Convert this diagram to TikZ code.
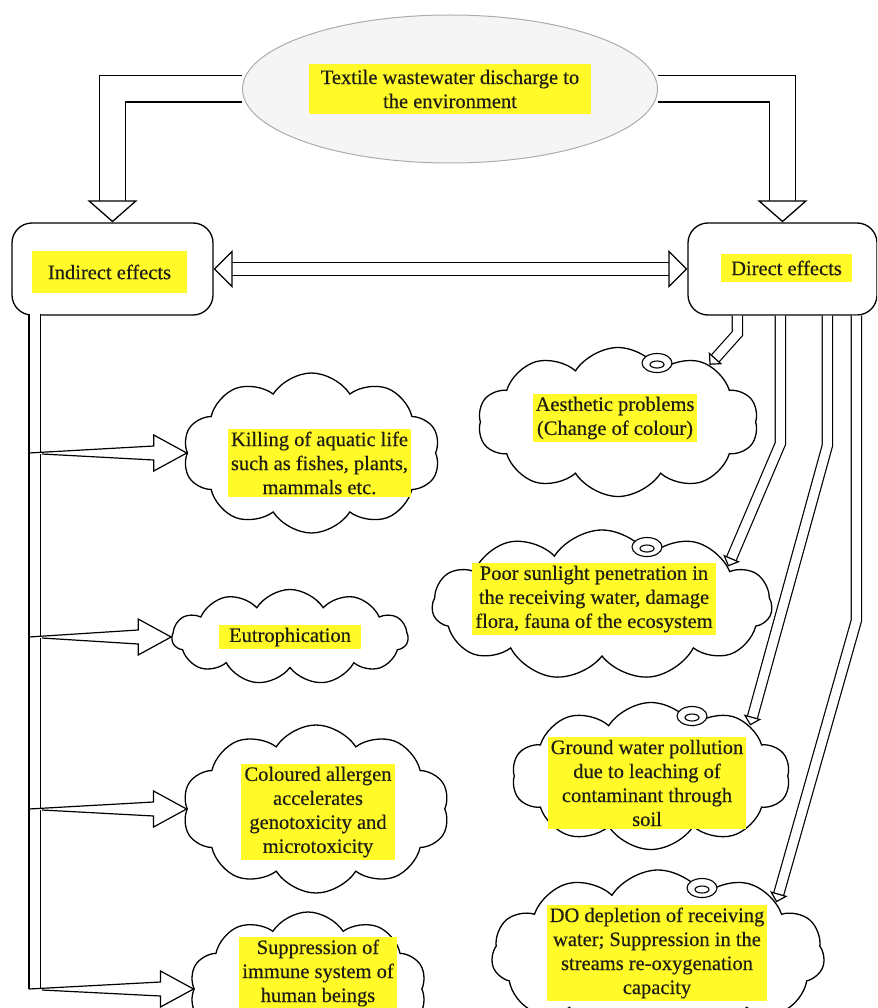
\documentclass[tikz,border=0pt]{standalone}
\usepackage{fontspec}
\setmainfont{Liberation Serif}[UprightFeatures={FakeBold=0.35}]
\usetikzlibrary{shapes.geometric,shapes.symbols,arrows.meta,calc,backgrounds}
\definecolor{hl}{RGB}{255,250,40}
\definecolor{ink}{RGB}{30,30,20}
\tikzstyle{every node}=[font=\fontsize{20.5}{24}\selectfont, text=ink]
\tikzstyle{box}=[draw, line width=1.3pt, rounded corners=20pt, minimum width=201pt, minimum height=92pt]
\tikzstyle{puff}=[cloud, draw, line width=1.3pt, fill=white, cloud puffs=10, cloud puff arc=115, cloud ignores aspect]
\tikzstyle{hilite}=[fill=hl, align=center, inner sep=3pt]
\tikzstyle{fat}=[double=white, double distance=25pt, line width=1.3pt, -{Triangle[length=22pt, width=50pt, fill=white, line width=1.3pt]}]
\tikzstyle{link}=[double=white, double distance=12pt, line width=1.3pt, {Triangle[length=19pt, width=38pt, fill=white, line width=1.3pt]}-{Triangle[length=19pt, width=38pt, fill=white, line width=1.3pt]}]
\tikzstyle{trunk}=[double=white, double distance=10.5pt, line width=1.2pt]
\tikzstyle{feed}=[double=white, double distance=9pt, line width=1.2pt, -{Triangle[length=9pt, width=18pt, fill=white, line width=1.2pt]}]
\tikzstyle{branch}=[line width=1.2pt, fill=white, line join=miter]

\begin{document}
\begin{tikzpicture}[x=1pt, y=-1pt]
\useasboundingbox (0,0) rectangle (877,1008);
\clip (0,0) rectangle (877,1008);

\node[ellipse, draw=gray!65, line width=1pt, fill=gray!8, minimum width=415pt, minimum height=148pt] (src) at (450,89) {};
\node[hilite, inner xsep=12pt, inner ysep=6pt] (srctxt) at (src.center) {Textile wastewater discharge to\\the environment};

\node[box] (ind) at (112.5,269) {};
\node[hilite, inner xsep=16pt, inner ysep=14pt] (indtxt) at ($(ind.center)+(-3,3)$) {Indirect effects};
\node[box, minimum width=189pt] (dir) at (782.5,269) {};
\node[hilite, inner xsep=10pt, inner ysep=7pt] (dirtxt) at ($(dir.center)+(4,-1)$) {Direct effects};

\begin{scope}[on background layer]
\draw[fat] (src.west) -| (ind.north);
\draw[fat] (src.east) -| (dir.north);
\end{scope}
\draw[link] (ind.east) -- (dir.west);

\node[puff, minimum width=257pt, minimum height=160pt] (kill) at (311.5,453) {};
\node[hilite] (killtxt) at ($(kill.center)+(8,10)$) {Killing of aquatic life\\such as fishes, plants,\\mammals etc.};
\node[puff, cloud puffs=11, minimum width=236pt, minimum height=95pt] (eutro) at (290,637) {};
\node[hilite, inner xsep=10pt] (eutrotxt) at (eutro.center) {Eutrophication};
\node[puff, minimum width=267pt, minimum height=168pt] (allerg) at (316,809) {};
\node[hilite] (allergtxt) at ($(allerg.center)+(2,3)$) {Coloured allergen\\accelerates\\genotoxicity and\\microtoxicity};
\node[puff, minimum width=237pt, minimum height=154pt] (immune) at (308,989) {};
\node[hilite] (immunetxt) at ($(immune.center)+(10,-16)$) {Suppression of\\immune system of\\human beings};

\node[puff, minimum width=280pt, minimum height=149pt] (aes) at (618,422) {};
\node[hilite] (aestxt) at ($(aes.center)+(-3,-4)$) {Aesthetic problems\\(Change of colour)};
\node[puff, cloud puffs=11, minimum width=340pt, minimum height=150pt] (poor) at (602,605) {};
\node[hilite] (poortxt) at ($(poor.center)+(-8,-6)$) {Poor sunlight penetration in\\the receiving water, damage\\flora, fauna of the ecosystem};
\node[puff, minimum width=278pt, minimum height=147pt] (ground) at (651,776) {};
\node[hilite] (groundtxt) at ($(ground.center)+(-4,7)$) {Ground water pollution\\due to leaching of\\contaminant through\\soil};
\node[puff, cloud puffs=11, minimum width=333pt, minimum height=170pt] (do) at (658,955) {};
\node[hilite] (dotxt) at ($(do.center)+(-1,-2)$) {DO depletion of receiving\\water; Suppression in the\\streams re-oxygenation\\capacity};

\foreach \c/\dx/\dy in {aes/39/-59, poor/45/-58, ground/41/-60, do/44/-67} {
  \draw[line width=1.1pt, fill=white] ($(\c.center)+(\dx,\dy)$) ellipse (15 and 9.5);
  \draw[line width=1.1pt] ($(\c.center)+(\dx,\dy+1.5)$) ellipse (7 and 3.5);
}

\draw[trunk] ($(ind.south west)+(23.5,-2)$) coordinate (t0) -- (t0 |- immune.west);
\foreach \c in {kill,eutro,allerg,immune}
  \draw[branch] ($(\c.west -| t0)+(-6,0)$) -- ($(\c.west)+(-33,-7)$) -- ($(\c.west)+(-33,-18)$) -- (\c.west)
    -- ($(\c.west)+(-33,18)$) -- ($(\c.west)+(-33,7)$) -- ($(\c.west -| t0)+(7,1)$);

\draw[feed] ($(dir.south west)+(50,0)$) -- ++(0,18) -- (aes.32);
\draw[feed] ($(dir.south west)+(93,0)$) -- ++(0,128) -- (poor.17);
\draw[feed] ($(dir.south west)+(140,0)$) -- ++(0,130) -- (ground.27);
\draw[feed] ($(dir.south west)+(169,0)$) -- ++(0,305) -- (do.24);
\end{tikzpicture}
\end{document}
